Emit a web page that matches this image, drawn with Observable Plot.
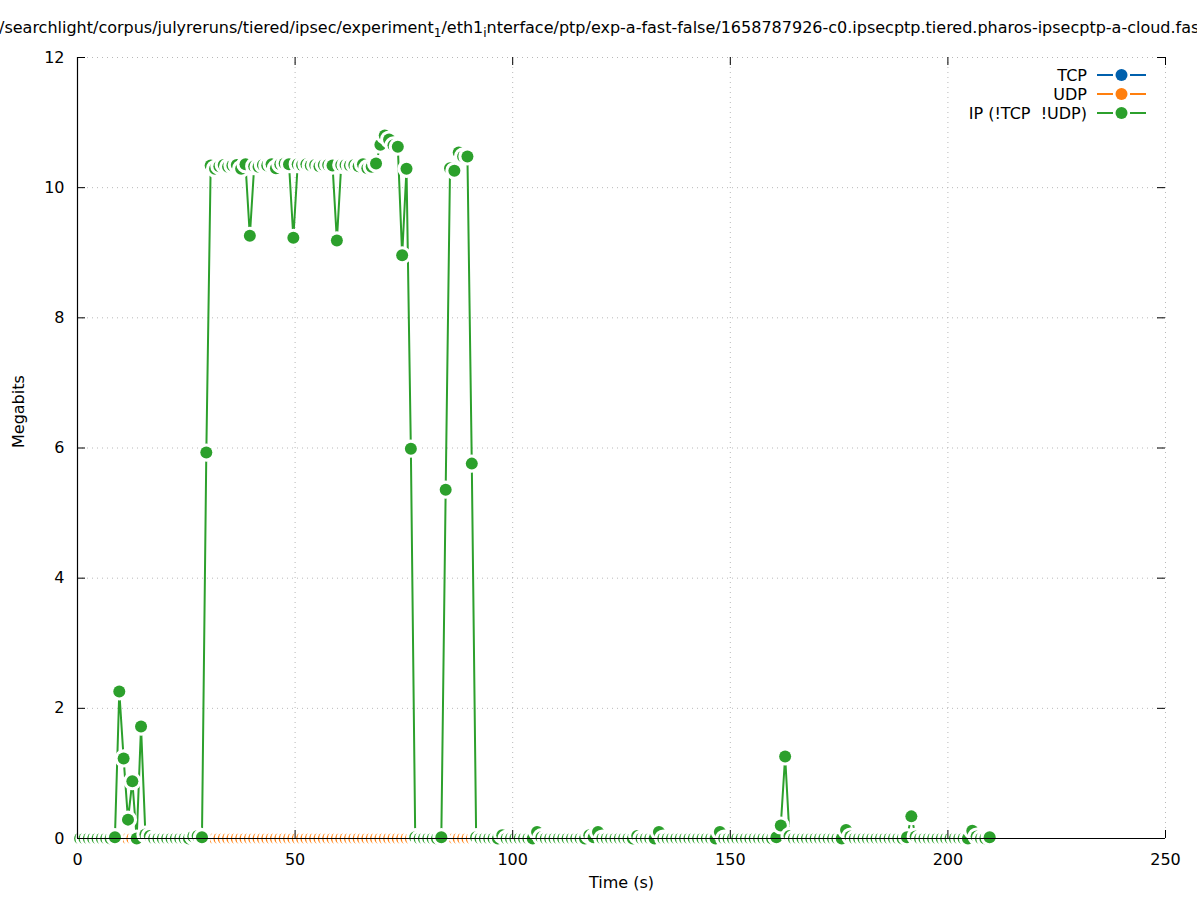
<!DOCTYPE html>
<html><head><meta charset="utf-8">
<script src="https://cdn.jsdelivr.net/npm/d3@7"></script>
<script src="https://cdn.jsdelivr.net/npm/@observablehq/plot@0.6"></script>
<style>html,body{margin:0;padding:0;background:#fff;overflow:hidden} #chart svg{display:block}</style>
</head><body><div id="chart"></div>
<script>
const seriesNames = ["TCP", "UDP", "IP (!TCP \u00a0!UDP)"];
const seriesColors = ["#0060ad", "#ff7f0e", "#2ca02c"];
const xTicks = [0, 50, 100, 150, 200, 250];
const yTicks = [0, 2, 4, 6, 8, 10, 12];
const titleParts = ["/searchlight/corpus/julyreruns/tiered/ipsec/experiment", "1", "/eth1", "i", "nterface/ptp/exp-a-fast-false/1658787926-c0.ipsecptp.tiered.pharos-ipsecptp-a-cloud.fast"];
const xLabel = "Time (s)";
const yLabel = "Megabits";
// sampling: one sample per second starting at 0.6 s
const sampleStart = 0.6, sampleStep = 1;

const ipMbits = [
  0,0,0,0,0,0,0,0,0.02,2.26,
  1.23,0.29,0.88,0,1.72,0.06,0.04,0,0,0,
  0,0,0,0,0,0,0.03,0.04,0.02,5.93,
  10.34,10.29,10.33,10.35,10.32,10.34,10.35,10.29,10.36,9.26,
  10.33,10.32,10.35,10.34,10.36,10.30,10.36,10.37,10.36,9.23,
  10.36,10.35,10.36,10.34,10.35,10.33,10.35,10.35,10.34,9.19,
  10.35,10.35,10.34,10.35,10.33,10.36,10.30,10.32,10.37,10.66,
  10.80,10.74,10.65,10.63,8.96,10.29,5.99,0.02,0,0,
  0,0,0,0.02,5.36,10.30,10.26,10.54,10.48,10.48,
  5.76,0.02,0,0,0,0,0,0.05,0,0,
  0,0,0,0,0,0.1,0.02,0,0,0,
  0,0,0,0,0,0,0,0.05,0.02,0.1,
  0,0,0,0,0,0,0,0,0.04,0,
  0,0,0,0.1,0,0,0,0,0,0,
  0,0,0,0,0,0,0,0.1,0,0,
  0,0,0,0,0,0,0,0,0,0,
  0.02,0.2,1.26,0.04,0,0,0,0,0,0,
  0,0,0,0,0,0,0.13,0.03,0,0,
  0,0,0,0,0,0,0,0,0,0,
  0.02,0.34,0.03,0,0,0,0,0,0,0,
  0,0,0,0,0,0.12,0.03,0,0,0.02
];
const udpMbits = [
  0,0,0,0,0,0,0,0,0,0,0,0,0,0,0,0,0,0,0,0,0,0,0,0,0,0,0,0,0,0,
  0,0,0,0,0,0,0,0,0,0,0,0,0,0,0,0,0,0,0,0,0,0,0,0,0,0,0,0,0,0,
  0,0,0,0,0,0,0,0,0,0,0,0,0,0,0,0,0,0,0,0,0,0,0,0,0,0,0,0,0,0,
  0,0,0,0,0,0,0,0,0,0,0,0,0,0,0,0,0,0,0,0,0,0,0,0,0,0,0,0,0,0,
  0,0,0,0,0,0,0,0,0,0,0,0,0,0,0,0,0,0,0,0,0,0,0,0,0,0,0,0,0,0,
  0,0,0,0,0,0,0,0,0,0,0,0,0,0,0,0,0,0,0,0,0,0,0,0,0,0,0,0,0,0,
  0,0,0,0,0,0,0,0,0,0,0,0,0,0,0,0,0,0,0,0,0,0,0,0,0,0,0,0,0,0
];
const tcpMbits = [
  0,0,0,0,0,0,0,0,0,0,0,0,0,0,0,0,0,0,0,0,0,0,0,0,0,0,0,0,0,0,
  0,0,0,0,0,0,0,0,0,0,0,0,0,0,0,0,0,0,0,0,0,0,0,0,0,0,0,0,0,0,
  0,0,0,0,0,0,0,0,0,0,0,0,0,0,0,0,0,0,0,0,0,0,0,0,0,0,0,0,0,0,
  0,0,0,0,0,0,0,0,0,0,0,0,0,0,0,0,0,0,0,0,0,0,0,0,0,0,0,0,0,0,
  0,0,0,0,0,0,0,0,0,0,0,0,0,0,0,0,0,0,0,0,0,0,0,0,0,0,0,0,0,0,
  0,0,0,0,0,0,0,0,0,0,0,0,0,0,0,0,0,0,0,0,0,0,0,0,0,0,0,0,0,0,
  0,0,0,0,0,0,0,0,0,0,0,0,0,0,0,0,0,0,0,0,0,0,0,0,0,0,0,0,0,0
];

const times = ipMbits.map((_, i) => sampleStart + i * sampleStep);

const W = 1197, H = 900, mL = 77, mR = 32, mT = 57, mB = 62;
const iw = W - mL - mR, ih = H - mT - mB;
const FONT = "'DejaVu Sans', sans-serif";

function seriesMarks(vals, color) {
  const data = vals.map((v, i) => ({t: times[i], v}));
  return [
    Plot.line(data, {x: "t", y: "v", stroke: color, strokeWidth: 2}),
    Plot.dot(data, {x: "t", y: "v", r: 6, fill: color, stroke: "white", strokeWidth: 6.2, paintOrder: "stroke"})
  ];
}

const chart = Plot.plot({
  width: W, height: H,
  marginLeft: mL, marginRight: mR, marginTop: mT, marginBottom: mB,
  style: {fontFamily: FONT, fontSize: "16px", background: "white", color: "black", overflow: "visible"},
  x: {domain: [0, 250], ticks: xTicks},
  y: {domain: [0, 12], ticks: yTicks},
  marks: [
    Plot.gridX(xTicks.slice(1), {stroke: "#b8b8b8", strokeOpacity: 1, strokeDasharray: "1,4"}),
    Plot.gridY(yTicks.slice(1), {stroke: "#b8b8b8", strokeOpacity: 1, strokeDasharray: "1,4"}),
    ...seriesMarks(tcpMbits, seriesColors[0]),
    ...seriesMarks(udpMbits, seriesColors[1]),
    ...seriesMarks(ipMbits, seriesColors[2]),
    Plot.tickY(yTicks, {y: d => d, insetRight: iw - 8, stroke: "black"}),
    Plot.tickY(yTicks, {y: d => d, insetLeft: iw - 8, stroke: "black"}),
    Plot.tickX(xTicks, {x: d => d, insetTop: ih - 8, stroke: "black"}),
    Plot.tickX(xTicks, {x: d => d, insetBottom: ih - 8, stroke: "black"}),
    Plot.ruleX([0], {stroke: "black", strokeWidth: 1.2}),
    Plot.ruleY([0], {stroke: "black", strokeWidth: 1.2}),
    Plot.axisX(xTicks, {tickSize: 0, tickPadding: 15, label: null, fill: "black", tickFormat: d => String(d)}),
    Plot.axisY(yTicks, {tickSize: 0, tickPadding: 13, label: null, fill: "black", tickFormat: d => String(d)}),
    Plot.text([xLabel], {text: d => d, frameAnchor: "bottom", dy: 49, fill: "black"}),
    Plot.text([yLabel], {text: d => d, frameAnchor: "left", rotate: -90, dx: -59, fill: "black"})
  ]
});
document.getElementById("chart").appendChild(chart);

const svg = d3.select(chart);
// title with gnuplot-style subscripts
const title = svg.append("text").attr("x", -1).attr("y", 33).attr("text-anchor", "start")
  .attr("font-family", FONT).attr("font-size", 16).attr("fill", "black");
titleParts.forEach((p, i) => {
  const sub = i % 2 === 1;
  title.append("tspan").attr("dy", i === 0 ? 0 : (sub ? 4 : -4))
    .attr("font-size", sub ? 12 : 16).text(p);
});
// legend
const lg = svg.append("g").attr("font-family", FONT).attr("font-size", 16);
seriesNames.forEach((name, i) => {
  const y = 75 + i * 19;
  lg.append("text").attr("x", 1087).attr("y", y).attr("dy", "0.35em")
    .attr("text-anchor", "end").attr("fill", "black").text(name);
  lg.append("line").attr("x1", 1097).attr("x2", 1113).attr("y1", y).attr("y2", y)
    .attr("stroke", seriesColors[i]).attr("stroke-width", 2);
  lg.append("line").attr("x1", 1130).attr("x2", 1146).attr("y1", y).attr("y2", y)
    .attr("stroke", seriesColors[i]).attr("stroke-width", 2);
  lg.append("circle").attr("cx", 1121.5).attr("cy", y).attr("r", 6).attr("fill", seriesColors[i]);
});
</script>
</body></html>
